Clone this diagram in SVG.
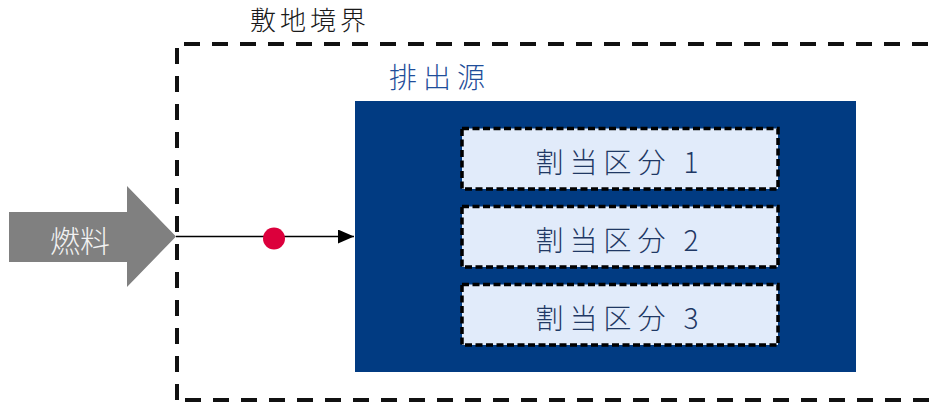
<svg xmlns="http://www.w3.org/2000/svg" width="932" height="403" viewBox="0 0 932 403">
  <defs>
    <style>
      .cjk { font-family: "Noto Sans CJK JP", "Noto Sans", sans-serif; font-weight: 300; }
      .boundary { fill: none; stroke: #111111; stroke-width: 4; stroke-dasharray: 16 12; }
      .alloc rect { fill: #E1EBFA; stroke: #000000; stroke-width: 3.5; stroke-dasharray: 7 3.5; }
      .alloc text { fill: #1F3864; font-size: 28px; letter-spacing: 6px; text-anchor: middle; }
    </style>
    <marker id="arrow" viewBox="0 0 16 14" refX="16" refY="7" markerWidth="16" markerHeight="14" markerUnits="userSpaceOnUse" orient="auto">
      <path d="M0,0 L16,7 L0,14 Z" fill="#000000"/>
    </marker>
  </defs>

  <g id="site-boundary">
    <path class="boundary" d="M184,44 H940"/>
    <path class="boundary" d="M177,48 V400"/>
    <path class="boundary" d="M185,400 H940"/>
    <text class="cjk" x="250" y="30" font-size="26" letter-spacing="4" fill="#1a1a1a">敷地境界</text>
  </g>

  <g id="fuel">
    <polygon points="9,212 127,212 127,186 176,236.5 127,287 127,262 9,262" fill="#808080"/>
    <text class="cjk" x="80" y="252" font-size="30" fill="#F2F2F2" text-anchor="middle">燃料</text>
  </g>

  <g id="emission-source">
    <rect x="355" y="101" width="501" height="271" fill="#013B82"/>
    <text class="cjk" x="389" y="88" font-size="28" letter-spacing="6" fill="#1F4E9A">排出源</text>
  </g>

  <g id="alloc-1" class="alloc cjk">
    <rect x="462" y="128.5" width="316" height="60.5"/>
    <text x="620" y="173">割当区分 1</text>
  </g>
  <g id="alloc-2" class="alloc cjk">
    <rect x="462" y="206.5" width="316" height="60.5"/>
    <text x="620" y="251">割当区分 2</text>
  </g>
  <g id="alloc-3" class="alloc cjk">
    <rect x="462" y="284.5" width="316" height="60.5"/>
    <text x="620" y="329">割当区分 3</text>
  </g>

  <g id="connectors">
    <line x1="176" y1="236.5" x2="354" y2="236.5" stroke="#000000" stroke-width="1.5" marker-end="url(#arrow)"/>
    <circle cx="274" cy="238.5" r="11" fill="#DC003C"/>
  </g>
</svg>
